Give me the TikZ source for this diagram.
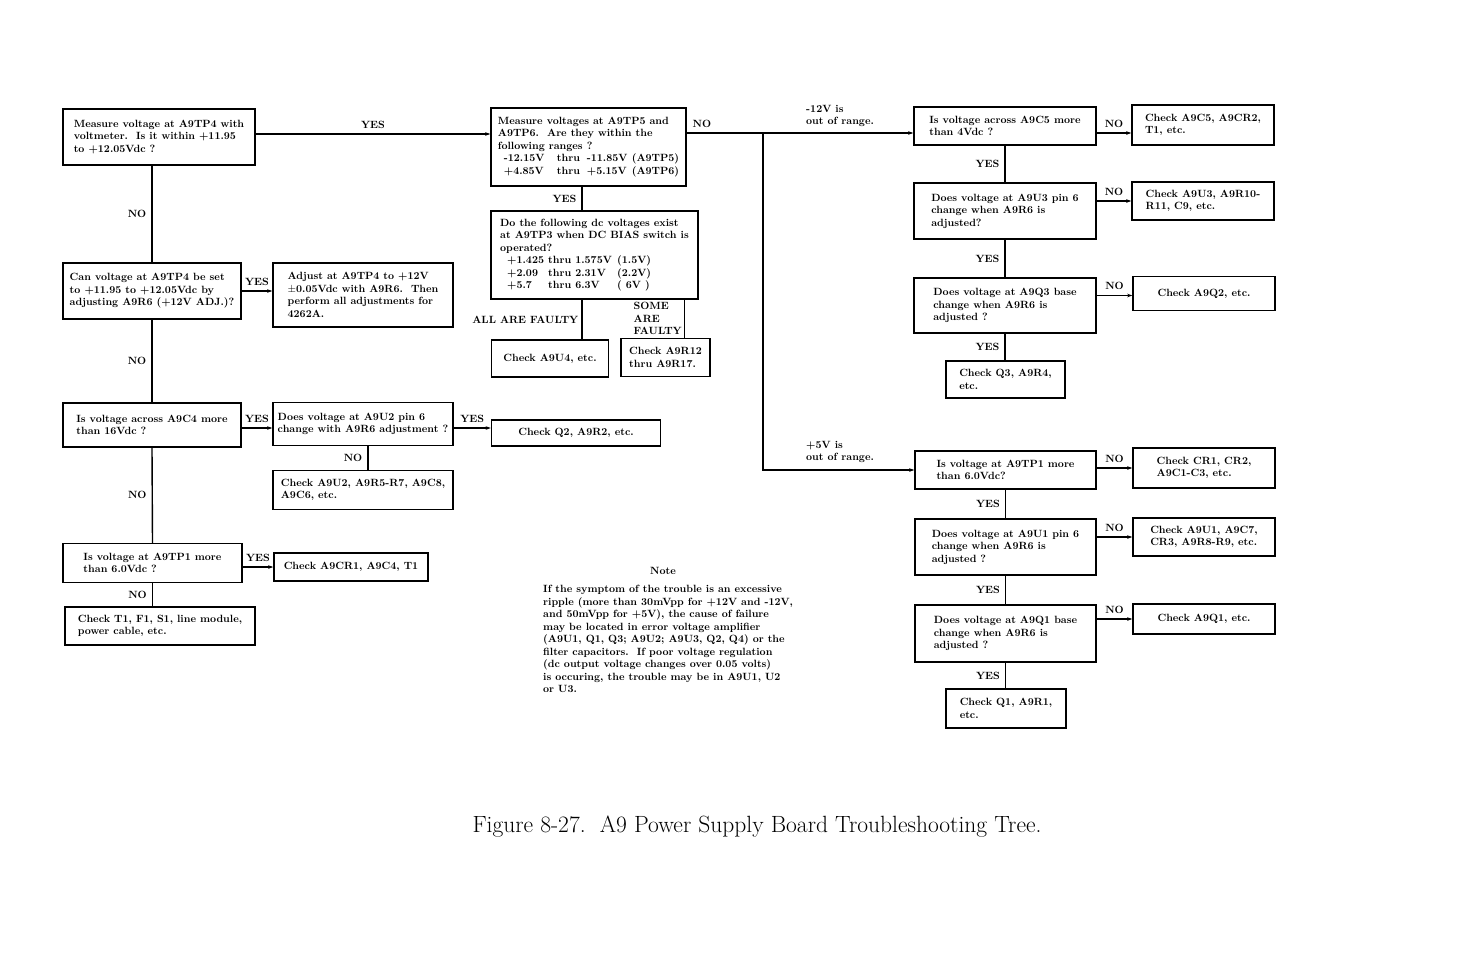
\documentclass[tikz,border=0pt]{standalone}
\usepackage{tikz}
\usetikzlibrary{arrows.meta}
\newcommand{\bxfont}{\fontsize{10.5}{12.5}\selectfont\bfseries}
\newcommand{\tcol}[2]{\makebox[#1][l]{#2}}
\tikzset{
  box/.style={draw, line width=1.5pt, align=left, inner sep=2pt, font=\bxfont},
  lbl/.style={font=\bxfont, inner sep=2pt},
  arr/.style={line width=1.4pt, -{Stealth[length=5pt,width=3.5pt]}},
  link/.style={line width=1.4pt},
}
\begin{document}
\begin{tikzpicture}[x=1pt,y=-1pt]
 \useasboundingbox (0,0) rectangle (1469,954);
 % left column
 \node[box, minimum width=192, minimum height=56] (meas) at (159,137) {Measure voltage at A9TP4 with\\voltmeter.\ \ Is it within +11.95\\to +12.05Vdc ?};
 \node[box, minimum width=178, minimum height=56] (adj12) at (152,291) {Can voltage at A9TP4 be set\\to +11.95 to +12.05Vdc by\\adjusting A9R6 (+12V ADJ.)?};
 \node[box, minimum width=180, minimum height=64] (setadj) at (363,295) {Adjust at A9TP4 to +12V\\$\pm$0.05Vdc with A9R6.\ \ Then\\perform all adjustments for\\4262A.};
 \node[box, minimum width=178, minimum height=44] (c4) at (152,425) {Is voltage across A9C4 more\\than 16Vdc ?};
 \node[box, minimum width=180, minimum height=43] (u2) at (363,424) {Does voltage at A9U2 pin 6\\change with A9R6 adjustment ?};
 \node[box, minimum width=180, minimum height=39] (chku2) at (363,490) {Check A9U2, A9R5-R7, A9C8,\\A9C6, etc.};
 \node[box, minimum width=179, minimum height=39] (tp1) at (152.5,563) {Is voltage at A9TP1 more\\than 6.0Vdc ?};
 \node[box, minimum width=154, minimum height=28] (chkcr1) at (351,567) {Check A9CR1, A9C4, T1};
 \node[box, minimum width=190, minimum height=38] (chkt1) at (160,626) {Check T1, F1, S1, line module,\\power cable, etc.};
 % middle column
 \node[box, minimum width=195, minimum height=78] (tp56) at (588.5,147) {Measure voltages at A9TP5 and\\A9TP6.\ \ Are they within the\\following ranges ?\\
   \hspace*{6pt}\tcol{53pt}{-12.15V}\tcol{30pt}{thru}\tcol{45pt}{-11.85V}(A9TP5)\\
   \hspace*{6pt}\tcol{53pt}{+4.85V}\tcol{30pt}{thru}\tcol{45pt}{+5.15V}(A9TP6)};
 \node[box, minimum width=207, minimum height=88] (bias) at (594.5,255) {Do the following dc voltages exist\\at A9TP3 when DC BIAS switch is\\operated?\\
   \hspace*{7pt}\tcol{41pt}{+1.425}\tcol{69pt}{thru 1.575V}(1.5V)\\
   \hspace*{7pt}\tcol{41pt}{+2.09}\tcol{69pt}{thru 2.31V}(2.2V)\\
   \hspace*{7pt}\tcol{41pt}{+5.7}\tcol{69pt}{thru 6.3V}( 6V )};
 \node[box, minimum width=117, minimum height=37] (chku4) at (550,358.5) {Check A9U4, etc.};
 \node[box, minimum width=89, minimum height=38] (chkr12) at (665.5,357.5) {Check A9R12\\thru A9R17.};
 \node[box, minimum width=169, minimum height=26] (chkq2) at (576,433) {Check Q2, A9R2, etc.};
 % right column, -12V
 \node[box, minimum width=182, minimum height=38] (c5) at (1005,126) {Is voltage across A9C5 more\\than 4Vdc ?};
 \node[box, minimum width=182, minimum height=56] (u3) at (1005,211) {Does voltage at A9U3 pin 6\\change when A9R6 is\\adjusted?};
 \node[box, minimum width=182, minimum height=55] (q3) at (1005,305.5) {Does voltage at A9Q3 base\\change when A9R6 is\\adjusted ?};
 \node[box, minimum width=119, minimum height=37] (chkq3) at (1005.5,379.5) {Check Q3, A9R4,\\etc.};
 \node[box, minimum width=142, minimum height=40] (chkc5) at (1203,125) {Check A9C5, A9CR2,\\T1, etc.};
 \node[box, minimum width=142, minimum height=38] (chku3) at (1203,201) {Check A9U3, A9R10-\\R11, C9, etc.};
 \node[box, minimum width=142, minimum height=34] (chka9q2) at (1204,293.5) {Check A9Q2, etc.};
 % right column, +5V
 \node[box, minimum width=181, minimum height=38] (tp1b) at (1005.5,470) {Is voltage at A9TP1 more\\than 6.0Vdc?};
 \node[box, minimum width=181, minimum height=56] (u1) at (1005.5,547) {Does voltage at A9U1 pin 6\\change when A9R6 is\\adjusted ?};
 \node[box, minimum width=181, minimum height=57] (q1) at (1005.5,633.5) {Does voltage at A9Q1 base\\change when A9R6 is\\adjusted ?};
 \node[box, minimum width=120, minimum height=39] (chkq1) at (1006,708.5) {Check Q1, A9R1,\\etc.};
 \node[box, minimum width=142, minimum height=40] (chkcr) at (1204,468) {Check CR1, CR2,\\A9C1-C3, etc.};
 \node[box, minimum width=142, minimum height=38] (chku1) at (1204,537) {Check A9U1, A9C7,\\CR3, A9R8-R9, etc.};
 \node[box, minimum width=142, minimum height=30] (chka9q1) at (1204,619) {Check A9Q1, etc.};

 % left connectors
 \draw[arr] ([yshift=3pt]meas.east) -- ([yshift=3pt]meas.east -| tp56.west) node[lbl, midway, above=3pt] {YES};
 \draw[link] (adj12.north |- meas.south) -- (adj12.north) node[lbl, midway, left=3pt] {NO};
 \draw[arr] (adj12.east) -- (adj12.east -| setadj.west) node[lbl, midway, above=3pt] {YES};
 \draw[link] (adj12.south) -- (c4.north) node[lbl, midway, left=3pt] {NO};
 \draw[arr] ([yshift=-3pt]c4.east) -- ([yshift=-3pt]c4.east -| u2.west) node[lbl, midway, above=3pt] {YES};
 \draw[arr] ([yshift=-4pt]u2.east) -- ([yshift=-4pt]u2.east -| chkq2.west) node[lbl, midway, above=3pt] {YES};
 \draw[link] ([xshift=5pt]u2.south) -- ([xshift=5pt]u2.south |- chku2.north) node[lbl, midway, left=3pt] {NO};
 \draw[link] (c4.south) -- (tp1.north) node[lbl, midway, left=3pt] {NO};
 \draw[arr] (chkcr1.west -| tp1.east) -- (chkcr1.west) node[lbl, midway, above=3pt] {YES};
 \draw[link] (tp1.south) -- (tp1.south |- chkt1.north) node[lbl, midway, left=3pt] {NO};
 % middle connectors
 \draw[link] ([xshift=-6.5pt]tp56.south) -- ([xshift=-6.5pt]tp56.south |- bias.north) node[lbl, midway, left=3pt] {YES};
 \draw[link] ([xshift=-12.5pt]bias.south) -- ([xshift=-12.5pt]bias.south |- chku4.north) node[lbl, midway, left=1pt] {ALL ARE FAULTY};
 \draw[link] ([xshift=19pt]chkr12.north |- bias.south) -- ([xshift=19pt]chkr12.north) node[lbl, midway, left=0pt, align=left] {SOME\\ARE\\FAULTY};
 \coordinate (split) at (763,133);
 \draw[link] (tp56.east |- split) -- (split) node[lbl, pos=0.2, above=3pt] {NO};
 \draw[arr] (split) -- (split -| c5.west);
 \draw[arr] (split) |- (tp1b.west);
 \node[lbl, align=left, anchor=west] (rng12) at (804,116) {-12V is\\out of range.};
 \node[lbl, align=left, anchor=west] (rng5) at (804,452) {+5V is\\out of range.};
 % right connectors
 \draw[arr] ([yshift=-7pt]c5.east) -- ([yshift=-7pt]c5.east -| chkc5.west) node[lbl, midway, above=3pt] {NO};
 \draw[link] (c5.south) -- (u3.north) node[lbl, midway, left=3pt] {YES};
 \draw[arr] (chku3.west -| u3.east) -- (chku3.west) node[lbl, midway, above=3pt] {NO};
 \draw[link] (u3.south) -- (q3.north) node[lbl, midway, left=3pt] {YES};
 \draw[arr] ([yshift=-2pt]chka9q2.west -| q3.east) -- ([yshift=-2pt]chka9q2.west) node[lbl, midway, above=3pt] {NO};
 \draw[link] (q3.south) -- (q3.south |- chkq3.north) node[lbl, midway, left=3pt] {YES};
 \draw[arr] (chkcr.west -| tp1b.east) -- (chkcr.west) node[lbl, midway, above=3pt] {NO};
 \draw[link] (tp1b.south) -- (u1.north) node[lbl, midway, left=3pt] {YES};
 \draw[arr] (chku1.west -| u1.east) -- (chku1.west) node[lbl, midway, above=3pt] {NO};
 \draw[link] (u1.south) -- (q1.north) node[lbl, midway, left=3pt] {YES};
 \draw[arr] (chka9q1.west -| q1.east) -- (chka9q1.west) node[lbl, midway, above=3pt] {NO};
 \draw[link] (q1.south) -- (q1.south |- chkq1.north) node[lbl, midway, left=3pt] {YES};

 % note and caption
 \node[lbl] (notehd) at (663,571) {Note};
 \node[lbl, align=left, anchor=north west] (notetxt) at (541,583) {If the symptom of the trouble is an excessive\\ripple (more than 30mVpp for +12V and -12V,\\and 50mVpp for +5V), the cause of failure\\may be located in error voltage amplifier\\(A9U1, Q1, Q3; A9U2; A9U3, Q2, Q4) or the\\filter capacitors.\ \ If poor voltage regulation\\(dc output voltage changes over 0.05 volts)\\is occuring, the trouble may be in A9U1, U2\\or U3.};
 \node[font=\fontsize{23.5}{26}\selectfont] (caption) at (757,827) {Figure 8-27.\ \ A9 Power Supply Board Troubleshooting Tree.};
\end{tikzpicture}
\end{document}
